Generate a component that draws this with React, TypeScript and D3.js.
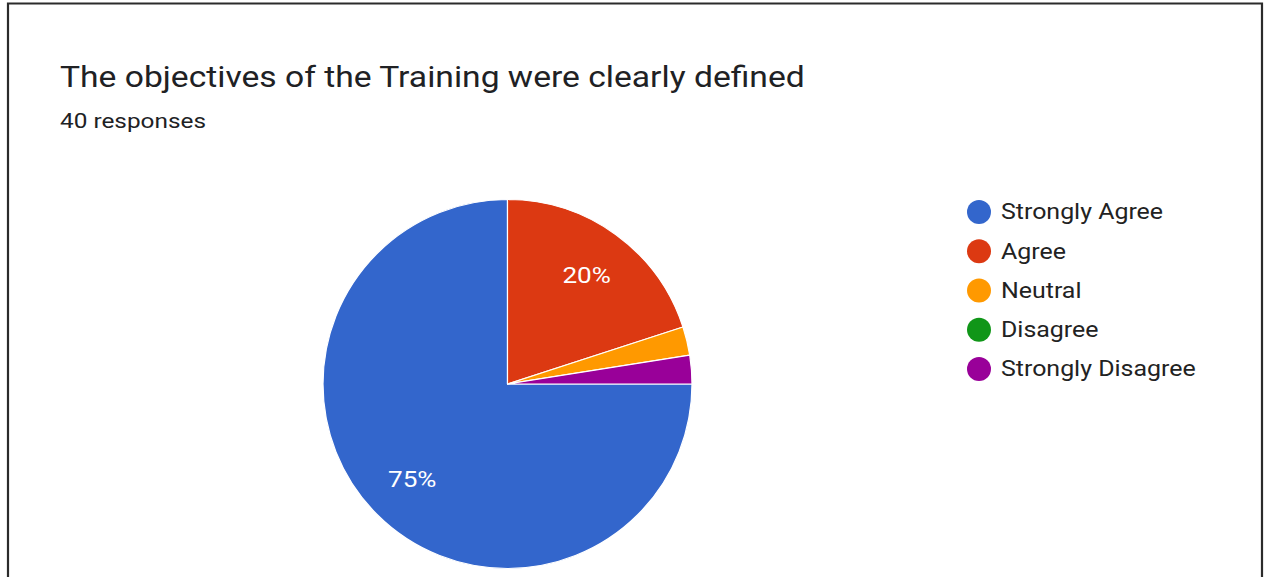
import React from "react";
import * as d3 from "d3";

const categories = ["Strongly Agree", "Agree", "Neutral", "Disagree", "Strongly Disagree"];
const counts = [30, 8, 1, 0, 1];
const colors = ["#3366cc", "#dc3912", "#ff9900", "#109618", "#990099"];
const title = "The objectives of the Training were clearly defined";
const subtitle = "40 responses";

const W = 1265;
const H = 577;
const SX = 1.16;

export default function App() {
  const cx = 507.5;
  const cy = 384;
  const r = 184.5;
  const total = d3.sum(counts);
  const data = categories.map((c, i) => ({ c, v: counts[i], color: colors[i] }));
  const pie = d3
    .pie<any>()
    .value((d) => d.v)
    .sort(null)
    .startAngle(Math.PI / 2)
    .endAngle(Math.PI / 2 + 2 * Math.PI);
  const arcs = pie(data);
  const arc = d3.arc<any>().innerRadius(0).outerRadius(r);
  const labelArc = d3.arc<any>().innerRadius(r * 0.73).outerRadius(r * 0.73);
  const legendY = d3.scalePoint<string>().domain(categories).range([212, 369]);
  const fmt = (v: number) => `${Math.round((v / total) * 100)}%`;

  return (
    <div style={{ position: "absolute", left: 0, top: 0 }}>
      <svg width={W} height={H} style={{ display: "block", fontFamily: "Roboto, Arial, sans-serif" }}>
        <rect x={0} y={0} width={W} height={H} fill="#fff" />
        <path d={`M8,${H} V3.5 H1262 V${H}`} fill="none" stroke="#2b2b2b" strokeWidth={2.2} />
        <g transform={`translate(60,87) scale(${SX},1)`}>
          <text x={0} y={0} fontSize={29} fill="#202124">{title}</text>
        </g>
        <g transform={`translate(60,128) scale(${SX},1)`}>
          <text x={0} y={0} fontSize={21} fill="#202124">{subtitle}</text>
        </g>
        <g transform={`translate(${cx},${cy})`}>
          {arcs.map((a, i) =>
            a.data.v > 0 ? (
              <path key={i} d={arc(a) as string} fill={a.data.color} stroke="#fff" strokeWidth={1.2} strokeLinejoin="round" />
            ) : null
          )}
          {arcs.map((a, i) => {
            if (a.data.v / total < 0.1) return null;
            const [x, y] = labelArc.centroid(a);
            return (
              <g key={i} transform={`translate(${x},${y}) scale(${SX},1)`}>
                <text x={0} y={0} textAnchor="middle" dominantBaseline="central" fontSize={22.5} fill="#fff">
                  {fmt(a.data.v)}
                </text>
              </g>
            );
          })}
        </g>
        {categories.map((c, i) => (
          <g key={c} transform={`translate(0,${legendY(c)})`}>
            <circle cx={979} cy={0} r={12} fill={colors[i]} />
            <g transform={`translate(1001,0) scale(${SX},1)`}>
              <text x={0} y={0} dominantBaseline="central" fontSize={21.5} fill="#222">{c}</text>
            </g>
          </g>
        ))}
      </svg>
    </div>
  );
}
